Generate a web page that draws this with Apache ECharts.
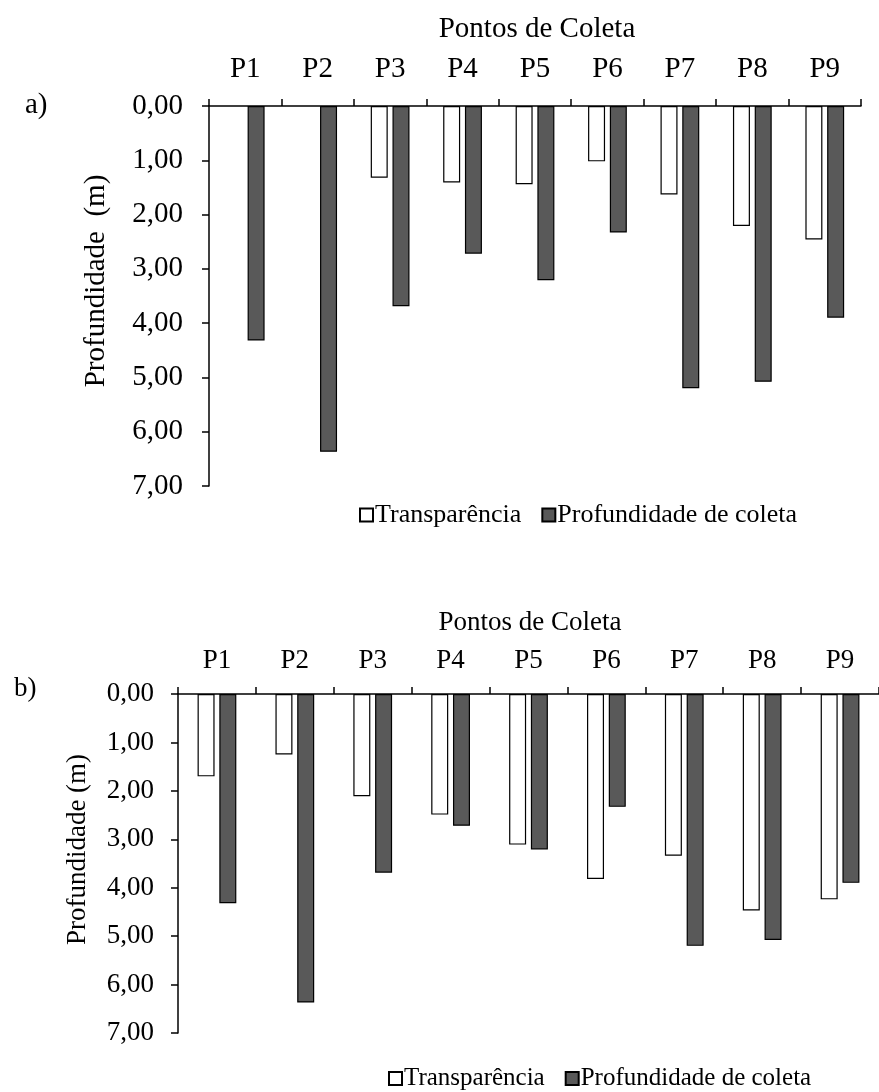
<!DOCTYPE html>
<html>
<head>
<meta charset="utf-8">
<script src="https://cdn.jsdelivr.net/npm/echarts@6/dist/echarts.min.js"></script>
<style>
  html, body { margin: 0; padding: 0; background: #fff; }
  #chart { width: 879px; height: 1092px; }
</style>
</head>
<body>
<div id="chart"></div>
<script>
var pontos = ['P1', 'P2', 'P3', 'P4', 'P5', 'P6', 'P7', 'P8', 'P9'];
var yTicks = [0, 1, 2, 3, 4, 5, 6, 7];
// a) transparencia (sem valor em P1 e P2)
var transpA = [null, null, 1.32, 1.41, 1.44, 1.02, 1.63, 2.21, 2.46];
// b) transparencia
var transpB = [1.70, 1.25, 2.11, 2.49, 3.11, 3.82, 3.34, 4.47, 4.24];
// profundidade de coleta (igual nos dois)
var profColeta = [4.32, 6.37, 3.69, 2.72, 3.21, 2.33, 5.20, 5.08, 3.90];

var fonte = '"Liberation Serif", "Times New Roman", serif';
var preto = '#000';
var cinza = '#595959';

var chart = echarts.init(document.getElementById('chart'));

function eixoX(idx, tam, margem) {
    return {
        gridIndex: idx,
        type: 'category',
        position: 'top',
        data: pontos,
        axisLine: { show: true, lineStyle: { color: preto, width: 1.5 } },
        axisTick: { show: true, length: 7, lineStyle: { color: preto, width: 1.5 } },
        axisLabel: { color: preto, fontFamily: fonte, fontSize: tam, margin: margem },
        splitLine: { show: false }
    };
}

function eixoY(idx, tam, nome, gap, margem, desloc) {
    return {
        gridIndex: idx,
        type: 'value',
        inverse: true,
        min: yTicks[0],
        max: yTicks[yTicks.length - 1],
        interval: 1,
        name: nome,
        nameLocation: 'middle',
        nameRotate: 90,
        nameGap: gap,
        nameTextStyle: { color: preto, fontFamily: fonte, fontSize: tam, padding: [0, 0, 0, desloc] },
        axisLine: { show: true, lineStyle: { color: preto, width: 1.5 } },
        axisTick: { show: true, length: 7, lineStyle: { color: preto, width: 1.5 } },
        axisLabel: {
            color: preto, fontFamily: fonte, fontSize: tam, margin: margem,
            formatter: function (v) { return v.toFixed(2).replace('.', ','); }
        },
        splitLine: { show: false }
    };
}

function serie(nome, idx, dados, cor) {
    return {
        name: nome,
        type: 'bar',
        xAxisIndex: idx,
        yAxisIndex: idx,
        data: dados,
        barWidth: 17,
        barGap: '28%',
        itemStyle: { color: cor, borderColor: preto, borderWidth: 1.2 },
        emphasis: { disabled: true }
    };
}

var option = {
    backgroundColor: '#fff',
    animation: false,
    textStyle: { fontFamily: fonte },
    title: [
        { text: 'Pontos de Coleta', left: 532, top: 10, textAlign: 'center',
          textStyle: { fontFamily: fonte, fontSize: 29, fontWeight: 'normal', color: preto } },
        { text: 'a)', left: 20, top: 86,
          textStyle: { fontFamily: fonte, fontSize: 29, fontWeight: 'normal', color: preto } },
        { text: 'Pontos de Coleta', left: 525, top: 604, textAlign: 'center',
          textStyle: { fontFamily: fonte, fontSize: 27, fontWeight: 'normal', color: preto } },
        { text: 'b)', left: 9, top: 670,
          textStyle: { fontFamily: fonte, fontSize: 27, fontWeight: 'normal', color: preto } }
    ],
    legend: [
        {
            data: ['Transparência', 'Profundidade de coleta'],
            left: 354, top: 497,
            icon: 'rect', itemWidth: 13, itemHeight: 13, itemGap: 20,
            textStyle: { fontFamily: fonte, fontSize: 26, color: preto, padding: [0, 0, 0, -3] }
        },
        {
            data: ['Transparência', 'Profundidade de coleta'],
            left: 383, top: 1061,
            icon: 'rect', itemWidth: 13, itemHeight: 13, itemGap: 20,
            textStyle: { fontFamily: fonte, fontSize: 25, color: preto, padding: [0, 0, 0, -3] }
        }
    ],
    grid: [
        { left: 209, top: 106, width: 652, height: 380 },
        { left: 178, top: 694, width: 704, height: 339 }
    ],
    xAxis: [eixoX(0, 29, 22), eixoX(1, 27, 20)],
    yAxis: [
        eixoY(0, 29, 'Profundidade  (m)', 98, 26, 30),
        eixoY(1, 27, 'Profundidade (m)', 87, 24, 28)
    ],
    series: [
        serie('Transparência', 0, transpA, '#fff'),
        serie('Profundidade de coleta', 0, profColeta, cinza),
        serie('Transparência', 1, transpB, '#fff'),
        serie('Profundidade de coleta', 1, profColeta, cinza)
    ]
};

chart.setOption(option);
</script>
</body>
</html>
